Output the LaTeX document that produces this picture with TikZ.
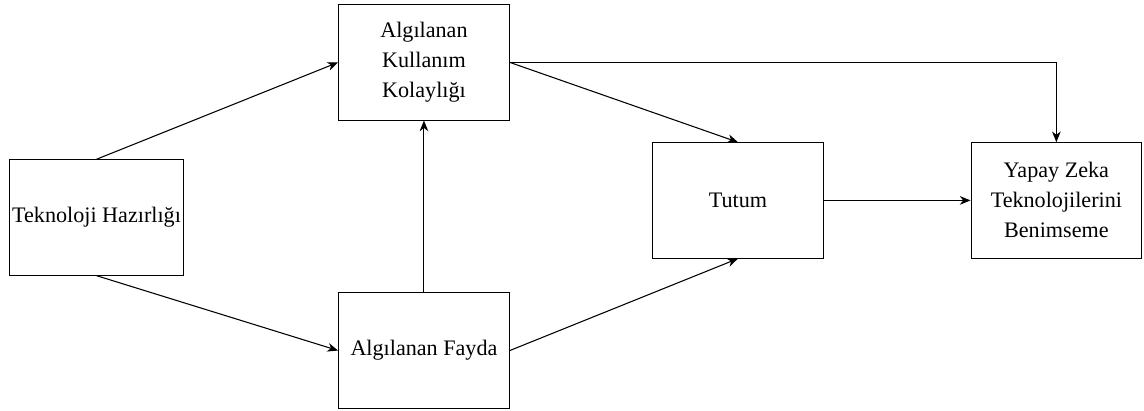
\documentclass[tikz,border=0pt]{standalone}
\usepackage{fontspec}
\setmainfont{Liberation Serif}
\usepackage{tikz}
\usetikzlibrary{arrows.meta, positioning}
\tikzset{
  box/.style={rectangle, draw=black, fill=white, line width=0.8pt,
              minimum width=128pt, minimum height=86.5pt, inner sep=2pt,
              font=\fontsize{16.6}{22.5}\selectfont, text=black, align=center},
  arr/.style={-{Stealth[length=8pt, width=6.5pt, inset=2.5pt]}, line width=0.8pt, color=black},
}
\begin{document}
\begin{tikzpicture}
      \useasboundingbox (-72.4pt,-144.4pt) rectangle (785.6pt,163.1pt);

      \node[box, minimum width=130pt] (tek) at (0,0) {Teknoloji Hazırlığı};

      \node[box, above right=29pt and 115.5pt of tek] (akk)
           {Algılanan\\Kullanım\\Kolaylığı};
      \node[box, below right=12.5pt and 115.5pt of tek] (af)
           {Algılanan Fayda};

      \node[box, right=351pt of tek, yshift=12.8pt] (tutum) {Tutum};
      \node[box, right=110pt of tutum] (yz)
           {Yapay Zeka\\Teknolojilerini\\Benimseme};

      \draw[arr] (tek.north) -- (akk.west);
      \draw[arr] (tek.south) -- (af.west);
      \draw[arr] (af.north)  -- (akk.south);
      \draw[arr] (akk.east)  -- (tutum.north);
      \draw[arr] (af.east)   -- (tutum.south);
      \draw[arr] (tutum.east) -- (yz.west);
      \draw[arr] (akk.east) -- (akk.east -| yz.north) -- (yz.north);
    \end{tikzpicture}
\end{document}
